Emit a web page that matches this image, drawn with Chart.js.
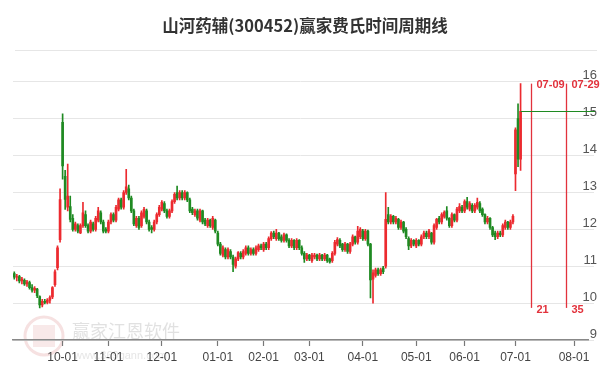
<!DOCTYPE html>
<html>
<head>
<meta charset="utf-8">
<title>山河药辅(300452)赢家费氏时间周期线</title>
<script src="https://cdn.jsdelivr.net/npm/chart.js@4.4.1/dist/chart.umd.min.js"></script>
<style>
	html, body { margin: 0; padding: 0; background: #fff; }
	#wrap { width: 600px; height: 371px; position: relative; }
</style>
</head>
<body>
<div id="wrap"><canvas id="fibChart"></canvas></div>
<script>
const chartTitle = "山河药辅(300452)赢家费氏时间周期线";

// exchange closing days inside the plotted range
const holidays = [
	"2024-09-16", "2024-09-17",
	"2024-10-01", "2024-10-02", "2024-10-03", "2024-10-04", "2024-10-07",
	"2025-01-01", "2025-01-28", "2025-01-29", "2025-01-30", "2025-01-31", "2025-02-03", "2025-02-04",
	"2025-04-04", "2025-05-01", "2025-05-02", "2025-05-05", "2025-06-02",
];
const firstDay = "2024-09-02";
const lastAxisDay = "2025-08-08";

// daily candles, 2024-09-02 .. 2025-07-03
const opens = [
	10.8, 10.7, 10.72, 10.6, 10.62, 10.52, 10.56, 10.42, 10.35, 10.38, 10.18, 9.95, 10.05, 10.02, 10.08, 10.17, 10.5, 10.96, 11.72,
	14.9, 13.44, 12.6, 12.62, 12.3, 12.0, 12.1, 11.9, 12.1, 12.4, 12.1, 11.95, 12.15, 12.0, 12.25, 12.45, 12.2, 12.0,
	11.95, 12.2, 12.4, 12.25, 12.55, 12.8, 12.6, 13.0, 13.1, 12.85, 12.5, 12.1, 12.3, 12.1, 12.35, 12.5, 12.2, 12.05, 12.0, 12.2, 12.4,
	12.55, 12.7, 12.5, 12.35, 12.5, 12.75, 13.0, 12.85, 13.0, 12.85, 13.0, 12.8, 12.55, 12.4, 12.5, 12.25, 12.5, 12.25, 12.1, 12.25, 12.05, 12.25,
	11.9, 11.6, 11.3, 11.45, 11.25, 11.4, 11.25, 11.0, 11.2, 11.35, 11.25, 11.35, 11.5, 11.35, 11.45, 11.35, 11.45, 11.55,
	11.45, 11.6, 11.5, 11.75, 11.9, 11.75, 11.9, 11.8, 11.7, 11.85, 11.7, 11.55, 11.7, 11.5, 11.7, 11.5, 11.35, 11.2,
	11.3, 11.15, 11.25, 11.3, 11.2, 11.3, 11.2, 11.3, 11.2, 11.15, 11.35, 11.6, 11.7, 11.6, 11.45, 11.6, 11.4, 11.6, 11.8, 11.65, 11.8,
	11.95, 11.75, 11.95, 11.6, 10.65, 10.75, 10.9, 10.8, 10.95, 11.0, 12.4, 12.2, 12.35, 12.2, 12.27, 12.05, 12.2, 12.0, 11.75, 11.55, 11.7,
	11.55, 11.7, 11.6, 11.8, 11.9, 11.8, 11.9, 11.65, 12.05, 12.3, 12.2, 12.35, 12.5, 12.3, 12.1, 12.4, 12.25, 12.5, 12.6,
	12.5, 12.75, 12.55, 12.65, 12.5, 12.6, 12.7, 12.55, 12.4, 12.2, 12.3, 12.05, 11.9, 11.8, 11.9, 11.85, 12.05, 12.2, 12.05, 12.2,
	13.5, 15.0, 13.9,
];
const highs = [
	10.85, 10.78, 10.75, 10.7, 10.66, 10.62, 10.6, 10.5, 10.45, 10.4, 10.2, 10.1, 10.1, 10.12, 10.2, 10.45, 10.9, 11.55, 13.1,
	15.13, 13.6, 13.77, 12.9, 12.4, 12.2, 12.15, 12.15, 12.73, 12.5, 12.15, 12.25, 12.2, 12.35, 12.6, 12.5, 12.25, 12.05,
	12.25, 12.45, 12.45, 12.65, 12.85, 12.85, 13.05, 13.63, 13.2, 12.9, 12.55, 12.35, 12.35, 12.5, 12.6, 12.55, 12.25, 12.1, 12.25, 12.45, 12.65,
	12.78, 12.75, 12.55, 12.55, 12.8, 13.0, 13.17, 13.05, 13.05, 13.05, 13.02, 12.85, 12.6, 12.55, 12.55, 12.55, 12.52, 12.3, 12.3, 12.28, 12.35, 12.28,
	11.95, 11.65, 11.55, 11.5, 11.5, 11.45, 11.3, 11.25, 11.4, 11.4, 11.45, 11.55, 11.55, 11.5, 11.5, 11.55, 11.6, 11.6,
	11.65, 11.65, 11.8, 11.94, 11.95, 12.0, 11.92, 11.85, 11.9, 11.88, 11.75, 11.75, 11.72, 11.75, 11.72, 11.55, 11.4, 11.35,
	11.32, 11.35, 11.35, 11.33, 11.35, 11.32, 11.35, 11.32, 11.22, 11.4, 11.7, 11.78, 11.75, 11.62, 11.65, 11.62, 11.65, 11.85, 11.82, 12.08, 12.05,
	12.0, 12.0, 11.98, 11.62, 10.9, 10.95, 10.95, 10.95, 11.0, 13.0, 12.6, 12.4, 12.38, 12.35, 12.3, 12.25, 12.22, 12.05, 11.8, 11.75, 11.72,
	11.75, 11.72, 11.85, 11.95, 11.95, 12.0, 11.92, 12.15, 12.3, 12.35, 12.45, 12.5, 12.62, 12.32, 12.45, 12.42, 12.6, 12.7, 12.65,
	12.8, 12.87, 12.75, 12.7, 12.7, 12.85, 12.75, 12.58, 12.42, 12.35, 12.32, 12.08, 11.95, 11.95, 11.95, 12.15, 12.25, 12.22, 12.25, 12.4,
	14.75, 15.4, 15.95,
];
const lows = [
	10.65, 10.6, 10.55, 10.52, 10.48, 10.45, 10.38, 10.3, 10.28, 10.15, 9.87, 9.9, 9.98, 9.98, 10.0, 10.12, 10.45, 10.9, 11.65,
	13.36, 12.54, 12.5, 12.2, 11.95, 11.95, 11.9, 11.88, 12.05, 12.05, 11.9, 11.9, 11.95, 11.95, 12.2, 12.15, 11.9, 11.9,
	11.9, 12.15, 12.2, 12.2, 12.5, 12.55, 12.55, 12.95, 12.8, 12.45, 12.1, 12.05, 12.0, 12.05, 12.3, 12.15, 11.95, 11.9, 11.95, 12.15, 12.35,
	12.5, 12.45, 12.3, 12.3, 12.45, 12.7, 12.8, 12.8, 12.8, 12.8, 12.75, 12.45, 12.4, 12.35, 12.25, 12.2, 12.15, 12.1, 12.05, 12.05, 12.0, 11.9,
	11.55, 11.3, 11.25, 11.2, 11.2, 11.2, 10.85, 10.95, 11.15, 11.2, 11.2, 11.3, 11.3, 11.3, 11.3, 11.3, 11.4, 11.45,
	11.4, 11.45, 11.45, 11.7, 11.75, 11.7, 11.7, 11.65, 11.65, 11.65, 11.5, 11.5, 11.45, 11.45, 11.45, 11.3, 11.1, 11.15,
	11.15, 11.1, 11.2, 11.15, 11.15, 11.15, 11.15, 11.1, 11.08, 11.1, 11.3, 11.55, 11.5, 11.4, 11.4, 11.35, 11.35, 11.55, 11.6, 11.6, 11.75,
	11.7, 11.7, 11.55, 10.14, 10.0, 10.7, 10.75, 10.75, 10.8, 10.95, 12.15, 12.15, 12.15, 12.15, 12.0, 12.0, 11.9, 11.75, 11.45, 11.5, 11.55,
	11.5, 11.55, 11.55, 11.75, 11.75, 11.75, 11.6, 11.6, 12.0, 12.15, 12.15, 12.3, 12.25, 12.05, 12.05, 12.2, 12.2, 12.45, 12.45,
	12.45, 12.55, 12.5, 12.45, 12.45, 12.55, 12.45, 12.35, 12.15, 12.15, 12.0, 11.8, 11.72, 11.75, 11.8, 11.8, 12.0, 12.0, 12.0, 12.15,
	13.05, 13.7, 13.6,
];
const closes = [
	10.7, 10.72, 10.6, 10.65, 10.52, 10.58, 10.42, 10.35, 10.4, 10.2, 9.95, 10.05, 10.02, 10.08, 10.15, 10.42, 10.85, 11.5, 12.81,
	13.72, 12.81, 12.9, 12.27, 12.0, 12.15, 11.95, 12.1, 12.45, 12.1, 11.95, 12.2, 12.0, 12.3, 12.5, 12.2, 11.95, 11.95,
	12.2, 12.4, 12.25, 12.6, 12.8, 12.6, 13.0, 13.15, 12.85, 12.5, 12.15, 12.3, 12.05, 12.45, 12.54, 12.2, 12.0, 12.0, 12.2, 12.4, 12.6,
	12.73, 12.5, 12.35, 12.5, 12.75, 12.95, 12.85, 13.0, 12.85, 13.0, 12.8, 12.5, 12.45, 12.5, 12.3, 12.5, 12.2, 12.15, 12.25, 12.1, 12.3, 11.95,
	11.6, 11.35, 11.5, 11.25, 11.45, 11.25, 11.05, 11.2, 11.37, 11.25, 11.4, 11.5, 11.35, 11.45, 11.35, 11.5, 11.55, 11.5,
	11.6, 11.5, 11.75, 11.9, 11.8, 11.9, 11.75, 11.7, 11.85, 11.7, 11.55, 11.7, 11.5, 11.7, 11.5, 11.35, 11.2, 11.3,
	11.2, 11.3, 11.3, 11.2, 11.3, 11.2, 11.3, 11.15, 11.12, 11.35, 11.65, 11.72, 11.55, 11.45, 11.6, 11.4, 11.6, 11.8, 11.65, 11.95, 12.0,
	11.75, 11.95, 11.6, 10.63, 10.82, 10.9, 10.8, 10.9, 10.85, 12.27, 12.2, 12.35, 12.2, 12.3, 12.05, 12.2, 11.95, 11.8, 11.55, 11.7, 11.6,
	11.7, 11.6, 11.8, 11.9, 11.8, 11.95, 11.65, 12.1, 12.27, 12.2, 12.4, 12.46, 12.3, 12.1, 12.4, 12.25, 12.55, 12.62, 12.5,
	12.75, 12.6, 12.7, 12.5, 12.65, 12.73, 12.5, 12.4, 12.2, 12.3, 12.05, 11.85, 11.8, 11.9, 11.85, 12.1, 12.2, 12.05, 12.2, 12.35,
	14.7, 13.9, 15.2,
];

// Fibonacci time lines
const fibDates = ["2025-07-09", "2025-07-29"];
const fibCounts = [21, 35];

const yTicks = [9, 10, 11, 12, 13, 14, 15, 16];

const RED = "#ec2a2f";
const GREEN = "#1f8a22";
const FIB_RED = "#e2323c";

function buildTradingDays(start, end) {
	const days = [];
	const d = new Date(start + "T00:00:00Z");
	const stop = new Date(end + "T00:00:00Z");
	while (d <= stop) {
		const wd = d.getUTCDay();
		const s = d.toISOString().slice(0, 10);
		if (wd !== 0 && wd !== 6 && !holidays.includes(s)) days.push(s);
		d.setUTCDate(d.getUTCDate() + 1);
	}
	return days;
}

const labels = buildTradingDays(firstDay, lastAxisDay);
const monthStarts = new Set();
labels.forEach((s, i) => {
	if (i > 0 && s.slice(5, 7) !== labels[i - 1].slice(5, 7)) monthStarts.add(i);
});

const candleColors = opens.map((o, i) => (closes[i] >= o ? RED : GREEN));

const extrasPlugin = {
	id: "fibExtras",
	beforeDraw(chart) {
		const ctx = chart.ctx;
		ctx.save();
		// separator under the title
		ctx.strokeStyle = "#e6e6e6";
		ctx.lineWidth = 1;
		ctx.beginPath();
		ctx.moveTo(15, 50.5);
		ctx.lineTo(597, 50.5);
		ctx.stroke();
		// faint watermark
		ctx.strokeStyle = "rgba(214,120,120,0.22)";
		ctx.lineWidth = 3;
		ctx.beginPath();
		ctx.arc(44, 336, 19, 0, Math.PI * 2);
		ctx.stroke();
		ctx.fillStyle = "rgba(214,120,120,0.16)";
		ctx.fillRect(33, 325, 22, 22);
		ctx.fillStyle = "rgba(170,170,170,0.35)";
		ctx.font = "18px 'Noto Sans CJK SC', sans-serif";
		ctx.textBaseline = "middle";
		ctx.fillText("赢家江恩软件", 72, 331);
		ctx.font = "11px 'Liberation Sans', Arial, sans-serif";
		ctx.fillStyle = "rgba(170,170,170,0.3)";
		ctx.fillText("www.369gann.com", 74, 356);
		ctx.restore();
	},
	afterDatasetsDraw(chart) {
		const { ctx, scales: { x, y } } = chart;
		const top = y.getPixelForValue(Math.max(...highs));
		const bottom = y.getPixelForValue(Math.min(...lows));
		ctx.save();
		fibDates.forEach((d, k) => {
			const px = Math.round(x.getPixelForValue(labels.indexOf(d))) + 0.5;
			ctx.strokeStyle = FIB_RED;
			ctx.lineWidth = 1.3;
			ctx.beginPath();
			ctx.moveTo(px, top);
			ctx.lineTo(px, bottom);
			ctx.stroke();
			ctx.fillStyle = FIB_RED;
			ctx.font = "bold 11px 'Liberation Sans', Arial, sans-serif";
			ctx.textBaseline = "middle";
			ctx.textAlign = "left";
			ctx.fillText(d.slice(5), px + 5, top + 1);
			ctx.fillText(String(fibCounts[k]), px + 5, bottom + 2);
		});
		// level of the last close
		const last = closes.length - 1;
		const py = Math.round(y.getPixelForValue(closes[last])) + 0.5;
		ctx.strokeStyle = GREEN;
		ctx.lineWidth = 1;
		ctx.beginPath();
		ctx.moveTo(x.getPixelForValue(last), py);
		ctx.lineTo(595, py);
		ctx.stroke();
		ctx.restore();
	},
};

function initializeFibChart() {
	const ctx = document.getElementById("fibChart").getContext("2d");
	if (!ctx) return;

	new Chart(ctx, {
		type: "bar",
		data: {
			labels: labels,
			datasets: [
				{
					label: "body",
					data: opens.map((o, i) => [o, closes[i]]),
					backgroundColor: candleColors,
					borderWidth: 0,
					barThickness: 2,
					grouped: false,
				},
				{
					label: "wick",
					data: lows.map((l, i) => [l, highs[i]]),
					backgroundColor: candleColors,
					borderWidth: 0,
					barThickness: 1,
					grouped: false,
				},
			],
		},
		options: {
			responsive: true,
			maintainAspectRatio: false,
			animation: false,
			layout: {
				padding: { left: 13, right: 3, top: 0, bottom: 0 },
			},
			plugins: {
				legend: { display: false },
				tooltip: { enabled: false },
				title: {
					display: true,
					text: chartTitle,
					color: "#333",
					font: { size: 16.5, weight: "bold", family: "'Noto Sans CJK SC', sans-serif" },
					padding: { top: 16, bottom: 46 },
				},
			},
			scales: {
				x: {
					offset: true,
					afterBuildTicks: (axis) => {
						axis.ticks = axis.ticks.filter((t) => monthStarts.has(t.value));
					},
					afterFit: (axis) => {
						axis.height = 31;
					},
					grid: {
						offset: false,
						drawOnChartArea: false,
						drawTicks: true,
						tickLength: 6,
						tickColor: "#777",
						tickWidth: 1.2,
					},
					border: { display: true, color: "#888", width: 1.5 },
					ticks: {
						autoSkip: false,
						maxRotation: 0,
						padding: 4,
						color: "#444",
						font: { size: 12, family: "'Liberation Sans', Arial, sans-serif" },
						callback: (v) => labels[v].slice(5, 7) + "-01",
					},
				},
				y: {
					position: "right",
					min: 9,
					max: 16,
					afterBuildTicks: (axis) => {
						axis.ticks = yTicks.map((v) => ({ value: v }));
					},
					afterFit: (axis) => {
						axis.width = 9;
					},
					grid: {
						color: "#e6e6e6",
						lineWidth: 1,
						drawTicks: true,
						tickLength: 6,
					},
					border: { display: false },
					ticks: {
						mirror: true,
						crossAlign: "near",
						labelOffset: -6,
						padding: 9,
						color: "#555",
						font: { size: 13, family: "'Liberation Sans', Arial, sans-serif" },
					},
				},
			},
		},
		plugins: [extrasPlugin],
	});
}

document.addEventListener("DOMContentLoaded", function () {
	initializeFibChart();
});
</script>
</body>
</html>
